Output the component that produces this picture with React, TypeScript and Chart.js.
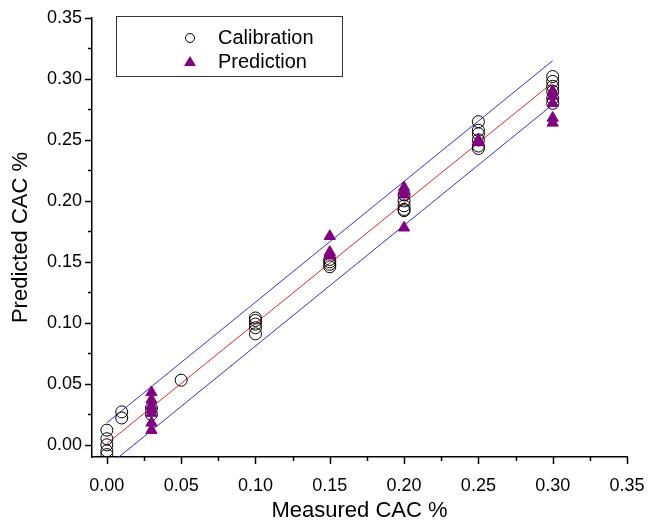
import { useEffect, useRef } from 'react';
import { Chart, registerables } from 'chart.js';

Chart.register(...registerables);

// Calibration set
const calMeasured = [0, 0, 0, 0, 0, 0.01, 0.01, 0.03, 0.03, 0.05,
  0.1, 0.1, 0.1, 0.1, 0.1,
  0.15, 0.15, 0.15, 0.15,
  0.2, 0.2, 0.2, 0.2, 0.2,
  0.25, 0.25, 0.25, 0.25, 0.25, 0.25,
  0.3, 0.3, 0.3, 0.3, 0.3, 0.3];
const calPredicted = [0.012, 0.005, 0.0, -0.005, -0.008, 0.027, 0.022, 0.025, 0.03, 0.053,
  0.104, 0.102, 0.099, 0.096, 0.091,
  0.152, 0.15, 0.148, 0.146,
  0.205, 0.2, 0.196, 0.193, 0.192,
  0.265, 0.258, 0.255, 0.25, 0.245, 0.243,
  0.302, 0.298, 0.294, 0.29, 0.284, 0.28];

// Prediction set
const predMeasured = [0.03, 0.03, 0.03, 0.03, 0.03, 0.03, 0.03,
  0.15, 0.15, 0.15,
  0.2, 0.2, 0.2, 0.2,
  0.25, 0.25,
  0.3, 0.3, 0.3, 0.3, 0.3];
const predPredicted = [0.043, 0.037, 0.032, 0.029, 0.026, 0.018, 0.012,
  0.171, 0.158, 0.155,
  0.211, 0.208, 0.205, 0.178,
  0.248, 0.25,
  0.29, 0.286, 0.28, 0.268, 0.264];

// Fit line and prediction band
const lineX = [0, 0.3];
const fitY = [0.001, 0.297];
const upperY = [0.018, 0.315];
const lowerY = [-0.018, 0.279];

// Axis ticks
const xTicks = [0, 0.05, 0.1, 0.15, 0.2, 0.25, 0.3, 0.35];
const yTicks = [0, 0.05, 0.1, 0.15, 0.2, 0.25, 0.3, 0.35];
const minorTicks = [0, 0.025, 0.05, 0.075, 0.1, 0.125, 0.15, 0.175, 0.2, 0.225, 0.25, 0.275, 0.3, 0.325, 0.35];

const seriesNames = ['Calibration', 'Prediction'];
const FONT = '"Liberation Sans", Arial, sans-serif';
const PURPLE = '#800080';

const zip = (xs: number[], ys: number[]) => xs.map((x, i) => ({ x, y: ys[i] }));

const tickPlugin = {
  id: 'axisTicks',
  afterDraw(chart: any) {
    const ctx = chart.ctx;
    const xs = chart.scales.x;
    const ys = chart.scales.y;
    const { left, bottom } = chart.chartArea;
    ctx.save();
    ctx.strokeStyle = '#000';
    ctx.lineWidth = 1.5;
    minorTicks.forEach((v, i) => {
      const len = i % 2 === 0 ? 7 : 4;
      const px = Math.round(xs.getPixelForValue(v)) + 0.5;
      ctx.beginPath();
      ctx.moveTo(px, bottom);
      ctx.lineTo(px, bottom + len);
      ctx.stroke();
      const py = Math.round(ys.getPixelForValue(v)) + 0.5;
      ctx.beginPath();
      ctx.moveTo(left, py);
      ctx.lineTo(left - len, py);
      ctx.stroke();
    });
    ctx.restore();
  },
};

const legendPlugin = {
  id: 'boxLegend',
  afterDraw(chart: any) {
    const ctx = chart.ctx;
    const { left, top } = chart.chartArea;
    const bx = left + 24;
    const by = top - 2;
    const bw = 226;
    const bh = 60;
    ctx.save();
    ctx.fillStyle = '#fff';
    ctx.fillRect(bx, by, bw, bh);
    ctx.strokeStyle = '#333';
    ctx.lineWidth = 1;
    ctx.strokeRect(bx + 0.5, by + 0.5, bw, bh);
    const mx = bx + 74;
    const tx = bx + 102;
    const y1 = by + 22;
    const y2 = by + 46;
    ctx.strokeStyle = '#000';
    ctx.beginPath();
    ctx.arc(mx, y1, 4.5, 0, Math.PI * 2);
    ctx.stroke();
    ctx.fillStyle = PURPLE;
    ctx.beginPath();
    ctx.moveTo(mx, y2 - 6);
    ctx.lineTo(mx + 6, y2 + 4);
    ctx.lineTo(mx - 6, y2 + 4);
    ctx.closePath();
    ctx.fill();
    ctx.fillStyle = '#000';
    ctx.font = `20px ${FONT}`;
    ctx.textBaseline = 'middle';
    ctx.textAlign = 'left';
    ctx.fillText(seriesNames[0], tx, y1);
    ctx.fillText(seriesNames[1], tx, y2);
    ctx.restore();
  },
};

export default function App() {
  const ref = useRef<HTMLCanvasElement | null>(null);
  useEffect(() => {
    if (!ref.current) return;
    const chart = new Chart(ref.current, {
      type: 'scatter',
      data: {
        datasets: [
          {
            label: seriesNames[1],
            data: zip(predMeasured, predPredicted),
            pointStyle: 'triangle',
            pointRadius: 6.5,
            backgroundColor: PURPLE,
            borderColor: PURPLE,
            borderWidth: 1,
          },
          {
            label: seriesNames[0],
            data: zip(calMeasured, calPredicted),
            pointStyle: 'circle',
            pointRadius: 6,
            backgroundColor: 'rgba(0,0,0,0)',
            borderColor: '#000',
            borderWidth: 1,
          },
          {
            label: 'fit',
            data: zip(lineX, fitY),
            showLine: true,
            pointRadius: 0,
            borderColor: 'rgb(220,40,40)',
            borderWidth: 1,
          },
          {
            label: 'upper',
            data: zip(lineX, upperY),
            showLine: true,
            pointRadius: 0,
            borderColor: 'rgb(50,50,200)',
            borderWidth: 1,
          },
          {
            label: 'lower',
            data: zip(lineX, lowerY),
            showLine: true,
            pointRadius: 0,
            borderColor: 'rgb(50,50,200)',
            borderWidth: 1,
          },
        ],
      },
      options: {
        animation: false,
        responsive: false,
        maintainAspectRatio: false,
        layout: { padding: { top: 18, right: 25, left: 0, bottom: 0 } },
        plugins: {
          legend: { display: false },
          tooltip: { enabled: false },
        },
        scales: {
          x: {
            type: 'linear',
            min: -0.01,
            max: 0.35,
            afterBuildTicks: (s: any) => { s.ticks = xTicks.map((v) => ({ value: v })); },
            afterFit: (s: any) => { s.height = 63; s.paddingLeft = 0; s.paddingRight = 0; },
            grid: { display: true, drawOnChartArea: false, drawTicks: false, color: 'rgba(0,0,0,0)' },
            border: { display: true, color: '#000', width: 1.5 },
            ticks: {
              padding: 18,
              color: '#000',
              font: { family: FONT, size: 18 },
              callback: (v: any) => Number(v).toFixed(2),
              maxRotation: 0,
            },
            title: {
              display: true,
              text: 'Measured CAC %',
              color: '#000',
              font: { family: FONT, size: 22 },
              padding: { top: 0, bottom: -4 },
            },
          },
          y: {
            type: 'linear',
            min: -0.01,
            max: 0.35,
            afterBuildTicks: (s: any) => { s.ticks = yTicks.map((v) => ({ value: v })); },
            afterFit: (s: any) => { s.width = 92; s.paddingTop = 0; s.paddingBottom = 0; },
            grid: { display: true, drawOnChartArea: false, drawTicks: false, color: 'rgba(0,0,0,0)' },
            border: { display: true, color: '#000', width: 1.5 },
            ticks: {
              padding: 10,
              color: '#000',
              font: { family: FONT, size: 18 },
              callback: (v: any) => Number(v).toFixed(2),
            },
            title: {
              display: true,
              text: 'Predicted CAC %',
              color: '#000',
              font: { family: FONT, size: 22 },
              padding: { top: 8, bottom: 0 },
            },
          },
        },
      },
      plugins: [tickPlugin, legendPlugin],
    } as any);
    return () => chart.destroy();
  }, []);
  return (
    <div style={{ position: 'absolute', left: 0, top: 0, width: 652, height: 520, background: '#fff' }}>
      <canvas ref={ref} width={652} height={520} style={{ width: 652, height: 520 }} />
    </div>
  );
}
